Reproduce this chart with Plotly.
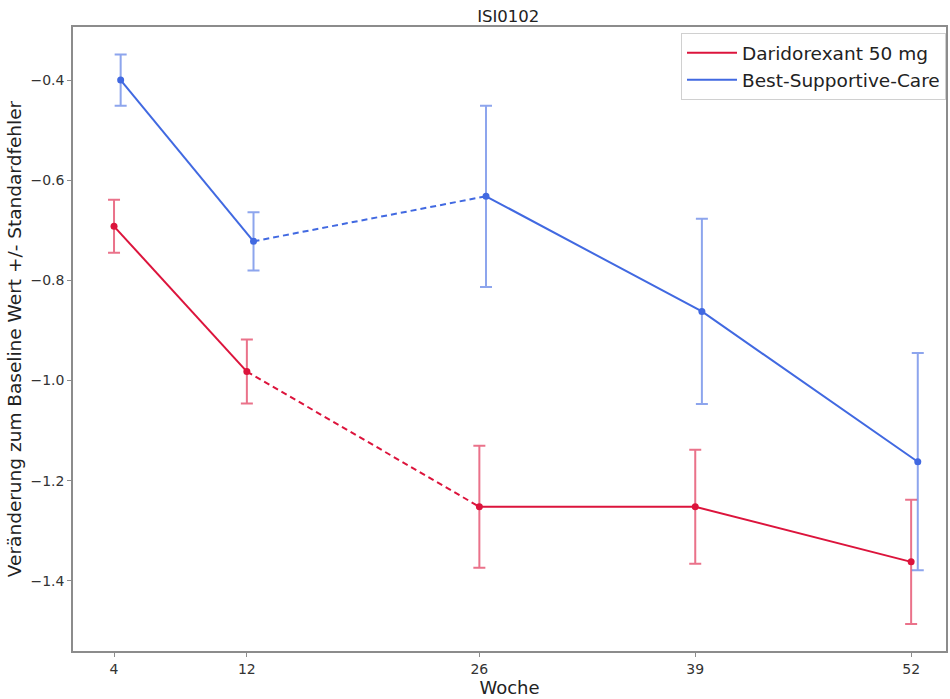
import plotly.graph_objects as go

weeks = [4, 12, 26, 39, 52]
tick_labels = ["4", "12", "26", "39", "52"]

dari_name = "Daridorexant 50 mg"
dari_mean = [-0.692, -0.982, -1.252, -1.252, -1.362]
dari_se = [0.053, 0.064, 0.122, 0.114, 0.124]

bsc_name = "Best-Supportive-Care"
bsc_mean = [-0.400, -0.722, -0.632, -0.862, -1.162]
bsc_se = [0.051, 0.058, 0.181, 0.185, 0.217]

RED = "rgb(220,20,60)"
RED_ERR = "rgba(220,20,60,0.6)"
BLUE = "rgb(65,105,225)"
BLUE_ERR = "rgba(65,105,225,0.6)"
FONT = "DejaVu Sans"

fig = go.Figure()


def add_series(name, xs, ys, se, color, ecolor, lg):
    # solid segment 4-12 (carries legend entry)
    fig.add_trace(go.Scatter(x=xs[0:2], y=ys[0:2], mode="lines", name=name,
                             line=dict(color=color, width=2), legendgroup=lg,
                             showlegend=True, hoverinfo="skip"))
    # dashed segment 12-26
    fig.add_trace(go.Scatter(x=xs[1:3], y=ys[1:3], mode="lines",
                             line=dict(color=color, width=2, dash="6px,4px"),
                             legendgroup=lg, showlegend=False, hoverinfo="skip"))
    # solid segment 26-52
    fig.add_trace(go.Scatter(x=xs[2:], y=ys[2:], mode="lines",
                             line=dict(color=color, width=2),
                             legendgroup=lg, showlegend=False, hoverinfo="skip"))
    # markers with error bars
    fig.add_trace(go.Scatter(x=xs, y=ys, mode="markers", name=name,
                             marker=dict(color=color, size=7),
                             error_y=dict(type="data", array=se, visible=True,
                                          color=ecolor, thickness=2, width=6),
                             legendgroup=lg, showlegend=False))


offset = 0.4
add_series(dari_name, weeks, dari_mean, dari_se, RED, RED_ERR, "d")
add_series(bsc_name, [w + offset for w in weeks], bsc_mean, bsc_se, BLUE, BLUE_ERR, "b")

axis_common = dict(showgrid=False, zeroline=False, showline=True, mirror=True,
                   linecolor="#8c8c8c", linewidth=1.5, ticks="outside",
                   ticklen=4, tickcolor="#8c8c8c",
                   tickfont=dict(family=FONT, size=14, color="#333"))

fig.update_layout(
    width=950, height=699,
    margin=dict(l=73, r=2, t=27, b=48),
    paper_bgcolor="white", plot_bgcolor="white",
    font=dict(family=FONT, color="#222"),
    title=dict(text="ISI0102", x=0.535, xanchor="center", y=0.985, yanchor="top",
               font=dict(family=FONT, size=16.5, color="#222")),
    xaxis=dict(range=[1.53, 54.1], tickvals=weeks, ticktext=tick_labels,
               title=dict(text="Woche", font=dict(family=FONT, size=18, color="#222"),
                          standoff=1),
               **axis_common),
    yaxis=dict(range=[-1.54, -0.294], tickvals=[-1.4, -1.2, -1.0, -0.8, -0.6, -0.4],
               tickformat=".1f",
               title=dict(text="Veränderung zum Baseline Wert +/- Standardfehler",
                          font=dict(family=FONT, size=18.5, color="#222"), standoff=4),
               **axis_common),
    legend=dict(x=1.0, xanchor="right", y=0.99, yanchor="top",
                bgcolor="rgba(255,255,255,0.9)", bordercolor="#d0d0d0", borderwidth=1,
                font=dict(family=FONT, size=18.5, color="#222"),
                itemwidth=50, tracegroupgap=0),
    showlegend=True,
)

fig.write_html("out.html")
